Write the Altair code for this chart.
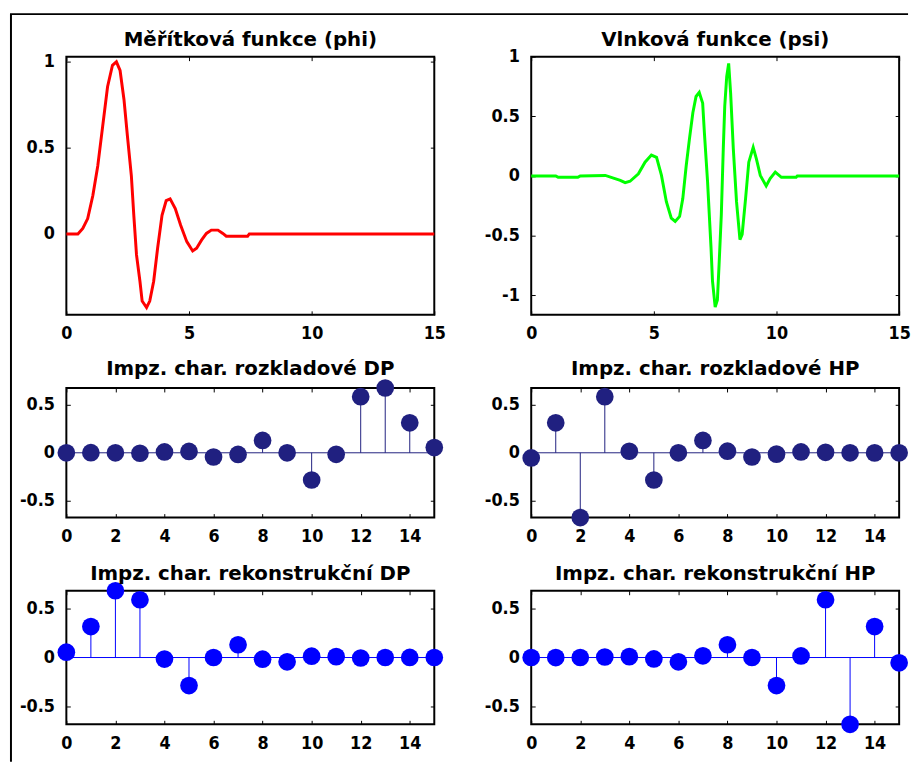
import altair as alt
import pandas as pd

# ---------------- data ----------------
phi_x = [0, 0.47, 0.67, 0.87, 1.08, 1.28, 1.48, 1.68, 1.88, 2.04, 2.19, 2.35, 2.49, 2.65,
         2.75, 2.86, 3.0, 3.09, 3.27, 3.40, 3.56, 3.72, 3.90, 4.07, 4.23, 4.44, 4.66, 4.91,
         5.15, 5.31, 5.51, 5.71, 5.91, 6.18, 6.38, 6.52, 7.39, 7.46, 15]
phi_y = [0, 0, 0.032, 0.089, 0.223, 0.395, 0.625, 0.855, 0.98, 1.0, 0.95, 0.78, 0.568, 0.338,
         0.108, -0.122, -0.275, -0.39, -0.428, -0.39, -0.275, -0.083, 0.108, 0.194, 0.204,
         0.147, 0.051, -0.045, -0.099, -0.083, -0.036, 0.003, 0.022, 0.022, 0.003, -0.013,
         -0.013, 0.0, 0.0]

psi_x = [0, 1.0, 1.1, 1.9, 2.0, 3.02, 3.63, 3.83, 4.03, 4.37, 4.64, 4.90, 5.11, 5.31, 5.51,
         5.71, 5.87, 6.05, 6.18, 6.32, 6.45, 6.59, 6.72, 6.85, 6.99, 7.06, 7.19, 7.33, 7.39,
         7.50, 7.59, 7.66, 7.75, 7.83, 7.89, 7.97, 8.05, 8.13, 8.24, 8.37, 8.51, 8.60, 8.74,
         8.87, 9.05, 9.18, 9.34, 9.58, 9.74, 9.95, 10.2, 10.8, 10.85, 15]
psi_y = [0, 0, -0.012, -0.012, 0, 0.004, -0.037, -0.057, -0.045, 0.018, 0.115, 0.175, 0.156,
         0.004, -0.216, -0.354, -0.382, -0.34, -0.19, 0.087, 0.308, 0.53, 0.666, 0.70, 0.61,
         0.363, -0.05, -0.60, -0.88, -1.10, -1.04, -0.74, -0.327, 0.225, 0.584, 0.832, 0.943,
         0.695, 0.225, -0.216, -0.534, -0.49, -0.189, 0.115, 0.239, 0.142, 0.004, -0.084,
         -0.023, 0.032, -0.012, -0.012, 0, 0]

n_idx = list(range(16))
dec_lo = [0.000, 0.001, 0.000, -0.005, 0.009, 0.014, -0.044, -0.017, 0.129, 0.000, -0.284,
          -0.016, 0.585, 0.676, 0.313, 0.054]
dec_hi = [-0.054, 0.313, -0.676, 0.585, 0.016, -0.284, -0.000, 0.129, 0.017, -0.044, -0.014,
          0.009, 0.005, -0.000, -0.001, -0.000]
rec_lo = [0.054, 0.313, 0.676, 0.585, -0.016, -0.284, 0.000, 0.129, -0.017, -0.044, 0.014,
          0.009, -0.005, 0.000, 0.001, 0.000]
rec_hi = [-0.000, -0.001, -0.000, 0.005, 0.009, -0.014, -0.044, 0.017, 0.129, -0.000, -0.284,
          0.016, 0.585, -0.676, 0.313, -0.054]

titles = ["Měřítková funkce (phi)", "Vlnková funkce (psi)",
          "Impz. char. rozkladové DP", "Impz. char. rozkladové HP",
          "Impz. char. rekonstrukční DP", "Impz. char. rekonstrukční HP"]

curve_ticks_x = [0, 5, 10, 15]
phi_ticks_y = [0, 0.5, 1]
psi_ticks_y = [-1, -0.5, 0, 0.5, 1]
stem_ticks_x = [0, 2, 4, 6, 8, 10, 12, 14]
stem_ticks_y = [-0.5, 0, 0.5]

# ---------------- styling ----------------
LABEL_FONT = "DejaVu Sans Condensed"
TITLE_FONT = "DejaVu Sans"
W = 372
LABEL_EXPR = "(datum.value < 0 ? '-' : '') + format(abs(datum.value), '~g')"


def axis_main(orient, values):
    return alt.Axis(orient=orient, values=values, title=None, grid=False, domain=False,
                    ticks=True, tickSize=4, tickWidth=1, tickColor="black", offset=-4,
                    labels=True, labelFont=LABEL_FONT, labelFontSize=18,
                    labelFontWeight="bold", labelColor="black",
                    labelPadding=12 if orient == "left" else 10,
                    labelFlush=False, labelOverlap=False, labelExpr=LABEL_EXPR)


def axis_ghost(orient, values):
    return alt.Axis(orient=orient, values=values, title=None, grid=False, domain=False,
                    ticks=True, tickSize=4, tickWidth=1, tickColor="black", offset=-4,
                    labels=False)


def sc(dom):
    return alt.Scale(domain=dom, nice=False, zero=False)


def title_layer(text, off):
    return alt.Chart(pd.DataFrame({"t": [text]})).mark_text(
        font=TITLE_FONT, fontSize=20, fontWeight="bold", color="black",
        align="center", baseline="alphabetic").encode(
        x=alt.value(W / 2), y=alt.value(-off), text="t:N")


def curve_panel(xs, ys, color, ydom, yticks, title, h, toff, extra=()):
    df = pd.DataFrame({"x": xs, "y": ys})
    sx, sy = sc([0, 15]), sc(ydom)
    line = alt.Chart(df).mark_line(color=color, strokeWidth=3).encode(
        x=alt.X("x:Q", scale=sx, axis=axis_main("bottom", curve_ticks_x)),
        y=alt.Y("y:Q", scale=sy, axis=axis_main("left", yticks)))
    ghost = alt.Chart(df).mark_point(opacity=0).encode(
        x=alt.X("x:Q", scale=sx, axis=axis_ghost("top", curve_ticks_x)),
        y=alt.Y("y:Q", scale=sy, axis=axis_ghost("right", yticks)))
    return alt.layer(line, ghost, title_layer(title, toff), *extra).resolve_axis(
        x="independent", y="independent").properties(width=W, height=h)


def stem_panel(vals, color, title, h, toff):
    df = pd.DataFrame({"n": n_idx, "h": vals})
    sx, sy = sc([0, 15]), sc([-0.676, 0.676])
    base = alt.Chart(pd.DataFrame({"z": [0]})).mark_rule(color=color, strokeWidth=1).encode(
        y=alt.Y("z:Q", scale=sy, axis=None))
    stems = alt.Chart(df).mark_rule(color=color, strokeWidth=1).encode(
        x=alt.X("n:Q", scale=sx, axis=axis_main("bottom", stem_ticks_x)),
        y=alt.Y("h:Q", scale=sy, axis=axis_main("left", stem_ticks_y)),
        y2=alt.datum(0))
    dots = alt.Chart(df).mark_circle(color=color, size=320, opacity=1).encode(
        x=alt.X("n:Q", scale=sx, axis=None),
        y=alt.Y("h:Q", scale=sy, axis=None))
    ghost = alt.Chart(df).mark_point(opacity=0).encode(
        x=alt.X("n:Q", scale=sx, axis=axis_ghost("top", stem_ticks_x)),
        y=alt.Y("h:Q", scale=sy, axis=axis_ghost("right", stem_ticks_y)))
    return alt.layer(base, stems, dots, ghost, title_layer(title, toff)).resolve_axis(
        x="independent", y="independent").properties(width=W, height=h)


# figure frame (window border) - decoration only
frame_df = pd.DataFrame({"k": [0]})
frame_v = alt.Chart(frame_df).mark_rule(color="black", strokeWidth=2).encode(
    x=alt.value(-56), y=alt.value(-43), y2=alt.value(713))
frame_h = alt.Chart(frame_df).mark_rule(color="black", strokeWidth=2).encode(
    x=alt.value(-57), x2=alt.value(851), y=alt.value(-43))

NAVY = "#202080"
BLUE = "#0000FF"

p1 = curve_panel(phi_x, phi_y, "#FF0000", [-0.47, 1.03], phi_ticks_y, titles[0], 261, 11,
                 extra=(frame_v, frame_h))
p2 = curve_panel(psi_x, psi_y, "#00FF00", [-1.165, 1.0], psi_ticks_y, titles[1], 261, 11)
p3 = stem_panel(dec_lo, NAVY, titles[2], 131, 13)
p4 = stem_panel(dec_hi, NAVY, titles[3], 131, 13)
p5 = stem_panel(rec_lo, BLUE, titles[4], 135, 11)
p6 = stem_panel(rec_hi, BLUE, titles[5], 135, 11)

chart = alt.concat(p1, p2, p3, p4, p5, p6, columns=2,
                   spacing={"row": 74, "column": 98}, bounds="flush", align="each").properties(
    padding={"left": 0, "top": 0, "right": 0, "bottom": 0},
    background="white").configure_view(stroke="black", strokeWidth=2)

chart.save("out.html", embed_options={"renderer": "svg", "actions": False})
